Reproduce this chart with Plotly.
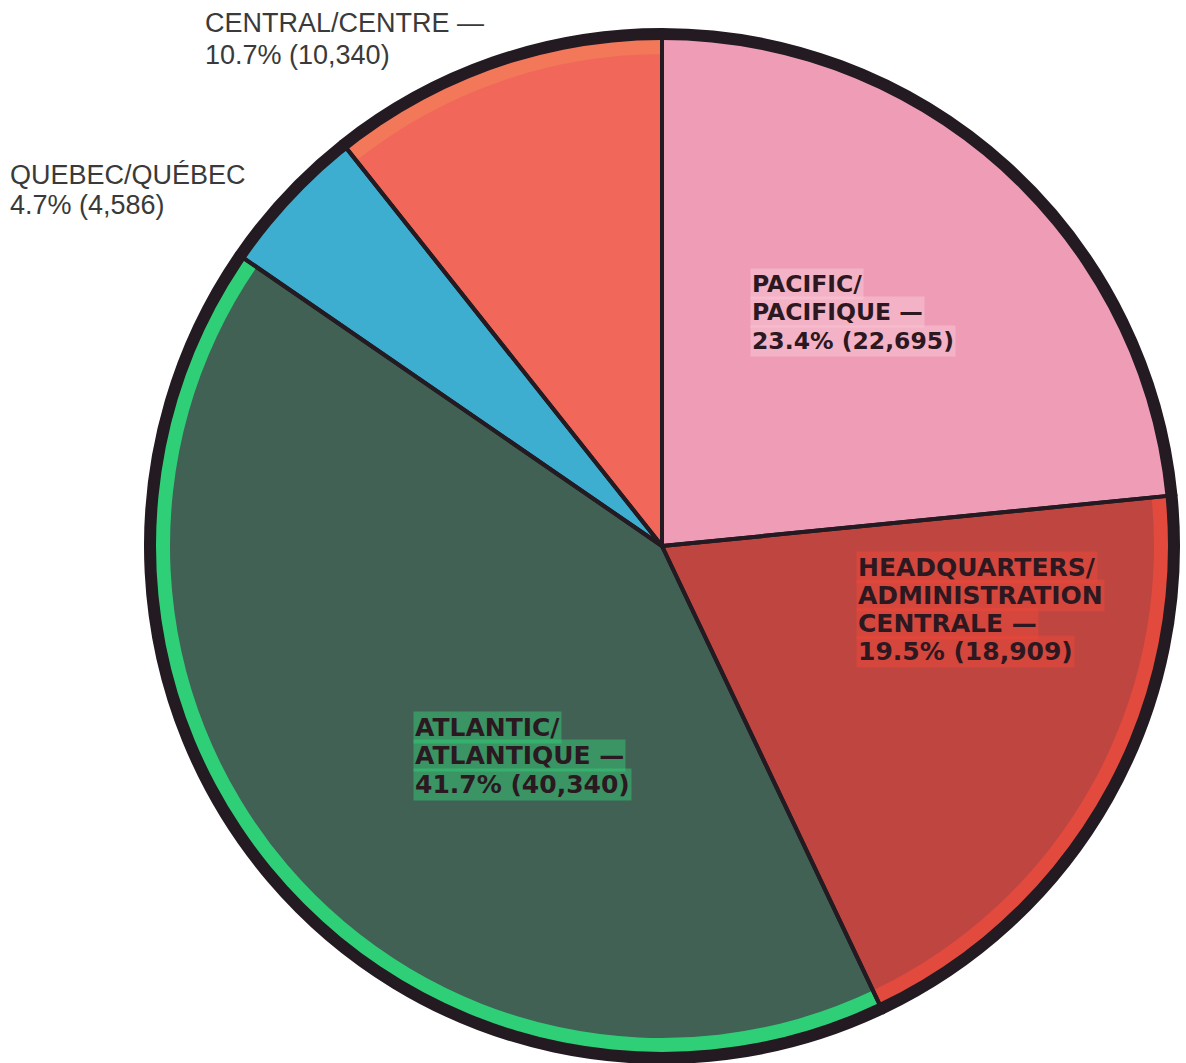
import plotly.graph_objects as go

# Regional totals, clockwise from 12 o'clock
regions = ["PACIFIC", "HEADQUARTERS", "ATLANTIC", "QUEBEC", "CENTRAL"]
name_lines = [
    ["PACIFIC/", "PACIFIQUE —"],
    ["HEADQUARTERS/", "ADMINISTRATION", "CENTRALE —"],
    ["ATLANTIC/", "ATLANTIQUE —"],
    ["QUEBEC/QUÉBEC"],
    ["CENTRAL/CENTRE —"],
]
counts = [22695, 18909, 40340, 4586, 10340]
shares = [23.4, 19.5, 41.7, 4.7, 10.7]

fill_colors = ["#ef9db7", "#bf4640", "#406154", "#3eaed0", "#f1685a"]
rim_colors = ["#ef9db7", "#e34a3e", "#2fcf78", "#3eaed0", "#f3785a"]
edge = "#231a22"

W, H = 1186, 1063
cx, cy, R = 662, 546, 516
domain = dict(x=[(cx - R) / W, (cx + R) / W], y=[1 - (cy + R) / H, 1 - (cy - R) / H])

common = dict(
    labels=regions, values=counts, sort=False, direction="clockwise",
    rotation=0, textinfo="none", domain=domain, showlegend=False,
)

fig = go.Figure()
# main slices
fig.add_trace(go.Pie(marker=dict(colors=fill_colors, line=dict(width=0)),
                     hoverinfo="label+value+percent", **common))
# brighter band just inside the rim
fig.add_trace(go.Pie(marker=dict(colors=rim_colors, line=dict(width=0)),
                     hole=(R - 24) / R, hoverinfo="skip", **common))
# slice borders drawn over both layers
fig.add_trace(go.Pie(marker=dict(colors=["rgba(0,0,0,0)"] * len(counts),
                                 line=dict(color=edge, width=4)),
                     hoverinfo="skip", **common))
# dark outer ring
fig.add_trace(go.Pie(labels=["rim"], values=[1], hole=(R - 10) / R, sort=False,
                     textinfo="none", hoverinfo="skip", domain=domain, showlegend=False,
                     marker=dict(colors=[edge], line=dict(width=0))))

# label placement: (left x, cap-centre y of first line, line step, style, size, backdrop)
placements = [
    (750, 283.5, 28.5, "in", 23.5, "rgba(250,200,215,0.5)"),
    (856, 567, 28, "in", 25, "rgba(235,70,55,0.5)"),
    (413, 727, 28.5, "in", 25, "rgba(50,210,120,0.45)"),
    (8, 175, 30.5, "out", 27, None),
    (203, 23.5, 31.5, "out", 27, None),
]

annotations = []
for lines, n, s, (x, y0, step, kind, size, bg) in zip(name_lines, counts, shares, placements):
    text_lines = lines + [f"{s}% ({n:,})"]
    for i, t in enumerate(text_lines):
        if kind == "in":
            font = dict(family="DejaVu Sans", size=size, color="#2b1820", weight="bold")
        else:
            font = dict(family="Liberation Sans", size=size, color="#3a3a3a")
        ann = dict(x=x / W, y=1 - (y0 + i * step) / H, xref="paper", yref="paper",
                   xanchor="left", yanchor="middle", showarrow=False, text=t, font=font)
        if bg:
            ann["bgcolor"] = bg
        annotations.append(ann)

fig.update_layout(
    width=W, height=H, margin=dict(l=0, r=0, t=0, b=0),
    paper_bgcolor="white", plot_bgcolor="white",
    annotations=annotations,
)

fig.write_html("out.html")
